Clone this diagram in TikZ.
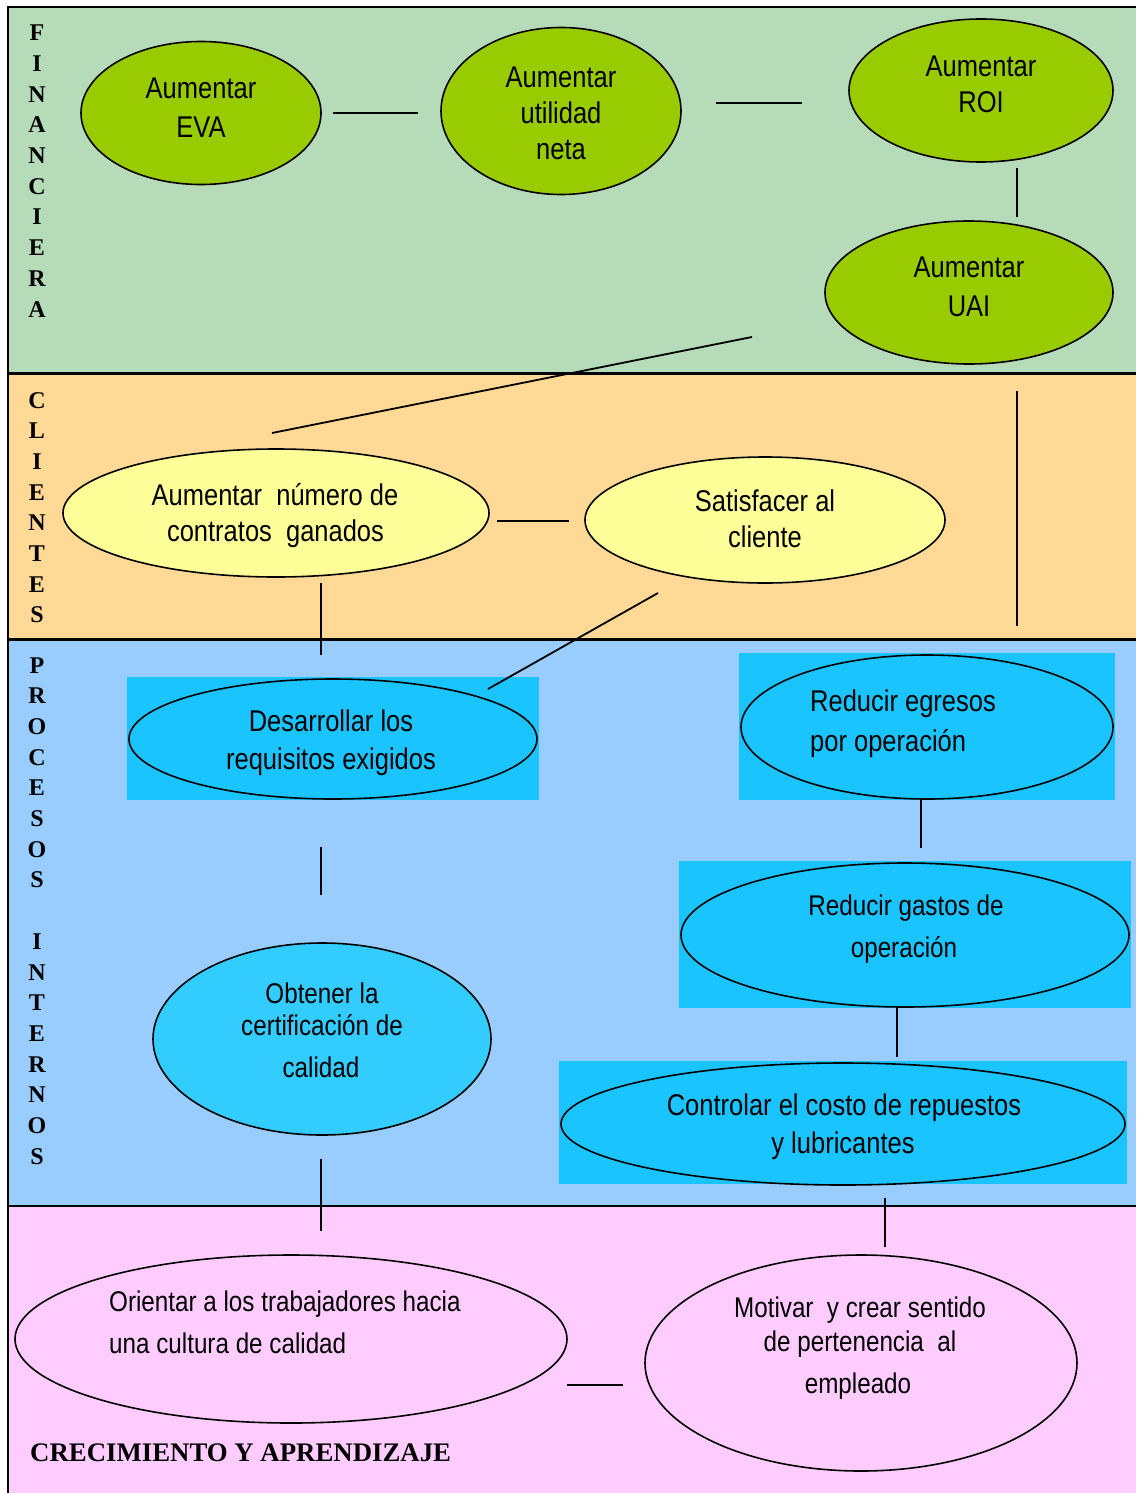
\documentclass[tikz,border=0pt]{standalone}
\usepackage{fontspec}
\usetikzlibrary{shapes.geometric}
\newfontfamily\nar[FakeStretch=0.85]{Liberation Sans}
\newfontfamily\tms{Liberation Serif}
\definecolor{bandG}{RGB}{181,219,185}
\definecolor{bandO}{RGB}{255,217,149}
\definecolor{bandB}{RGB}{153,204,255}
\definecolor{bandP}{RGB}{255,204,255}
\definecolor{elG}{RGB}{153,204,0}
\definecolor{elY}{RGB}{255,255,153}
\definecolor{elC}{RGB}{26,196,255}
\definecolor{elC2}{RGB}{51,204,255}
\begin{document}
\begin{tikzpicture}[x=1pt,y=-1pt,
  ell/.style={ellipse, draw=black, line width=1.6pt, inner sep=0pt},
  rbox/.style={rectangle, fill=elC, draw=none, inner sep=0pt},
  tl/.style={font=\nar\fontsize{30}{36}\selectfont, inner sep=0pt, anchor=base},
  tls/.style={font=\nar\fontsize{28.5}{34}\selectfont, inner sep=0pt, anchor=base},
  lab/.style={font=\tms\bfseries\fontsize{24}{24}\selectfont, inner sep=0pt, anchor=base},
  conn/.style={line width=1.8pt}]
\useasboundingbox (0,0) rectangle (1136,1493);
% bands
\fill[bandG] (8,7) rectangle (1136,373);
\fill[bandO] (8,373) rectangle (1136,639);
\fill[bandB] (8,639) rectangle (1136,1206);
\fill[bandP] (8,1206) rectangle (1136,1493);
\draw[line width=2pt] (8,1493) -- (8,7) -- (1136,7);
\draw[line width=3pt] (8,373) -- (1136,373);
\draw[line width=3pt] (8,639) -- (1136,639);
\draw[line width=2pt] (8,1206) -- (1136,1206);

% side labels
\foreach \l [count=\i] in {F,I,N,A,N,C,I,E,R,A}
  \node[lab] (fin\i) at (37,{40.7+30.7*(\i-1)}) {\l};
\foreach \l [count=\i] in {C,L,I,E,N,T,E,S}
  \node[lab] (cli\i) at (37,{408+30.7*(\i-1)}) {\l};
\foreach \l [count=\i] in {P,R,O,C,E,S,O,S,{},I,N,T,E,R,N,O,S}
  \node[lab] (pro\i) at (37,{673+30.7*(\i-1)}) {\l};
\node[lab, anchor=base west, font=\tms\bfseries\fontsize{26.8}{26.8}\selectfont] (crec) at (30,1461) {CRECIMIENTO Y APRENDIZAJE};

% financiera
\node[ell, fill=elG, minimum width=240pt, minimum height=143pt] (eva) at (201,113) {};
\node[ell, fill=elG, minimum width=240pt, minimum height=167pt] (util) at (561,111) {};
\node[ell, fill=elG, minimum width=264pt, minimum height=143pt] (roi) at (981,90.5) {};
\node[ell, fill=elG, minimum width=288pt, minimum height=143pt] (uai) at (969,292.5) {};
\node[tl] (eva1) at (201,99) {Aumentar};
\node[tl] (eva2) at (201,138) {EVA};
\node[tl] (util1) at (561,88) {Aumentar};
\node[tl] (util2) at (561,124) {utilidad};
\node[tl] (util3) at (561,160) {neta};
\node[tl] (roi1) at (981,77) {Aumentar};
\node[tl] (roi2) at (981,113) {ROI};
\node[tl] (uai1) at (969,277) {Aumentar};
\node[tl] (uai2) at (969,316) {UAI};

% clientes
\node[ell, fill=elY, minimum width=426pt, minimum height=128pt] (num) at (276,513) {};
\node[ell, fill=elY, minimum width=360pt, minimum height=126pt] (sat) at (765,520) {};
\node[tl] (num1) at (275,505) {Aumentar\ \ número de};
\node[tl] (num2) at (275.5,541) {contratos\ \ ganados};
\node[tl] (sat1) at (765,511) {Satisfacer al};
\node[tl] (sat2) at (765,547) {cliente};

% procesos internos
\node[rbox, minimum width=412pt, minimum height=123pt] (rdes) at (333,738.5) {};
\node[ell, fill=elC, minimum width=408pt, minimum height=120pt] (des) at (333,739) {};
\node[rbox, minimum width=376pt, minimum height=147pt] (regr) at (927,726.5) {};
\node[ell, fill=elC, minimum width=372pt, minimum height=144pt] (egr) at (927,727) {};
\node[rbox, minimum width=452pt, minimum height=147pt] (rgas) at (905,934.5) {};
\node[ell, fill=elC, minimum width=448pt, minimum height=144pt] (gas) at (905,935) {};
\node[rbox, minimum width=568pt, minimum height=123pt] (rcon) at (843,1122.5) {};
\node[ell, fill=elC, minimum width=564pt, minimum height=122pt] (con) at (843,1124) {};
\node[ell, fill=elC2, minimum width=338pt, minimum height=192pt] (obt) at (322,1039) {};
\node[tl] (des1) at (331,731) {Desarrollar los};
\node[tl] (des2) at (331,769) {requisitos exigidos};
\node[tl, anchor=base west] (egr1) at (810,711) {Reducir egresos};
\node[tl, anchor=base west] (egr2) at (810,751) {por operación};
\node[tls] (gas1) at (906,915) {Reducir gastos de};
\node[tls] (gas2) at (904,957) {operación};
\node[tl] (con1) at (844,1115) {Controlar el costo de repuestos};
\node[tl] (con2) at (843,1153) {y lubricantes};
\node[tls] (obt1) at (322,1003) {Obtener la};
\node[tls] (obt2) at (322,1035) {certificación de};
\node[tls] (obt3) at (321,1077) {calidad};

% crecimiento
\node[ell, fill=bandP, minimum width=552pt, minimum height=168pt] (ori) at (291,1339) {};
\node[ell, fill=bandP, minimum width=432pt, minimum height=216pt] (mot) at (861,1363) {};
\node[tls, anchor=base west] (ori1) at (109,1311) {Orientar a los trabajadores hacia};
\node[tls, anchor=base west] (ori2) at (109,1353) {una cultura de calidad};
\node[tls] (mot1) at (860,1317) {Motivar\ \ y crear sentido};
\node[tls] (mot2) at (860,1351) {de pertenencia\ \ al};
\node[tls] (mot3) at (858,1393) {empleado};

% connector end points
\coordinate (c1a) at (333,113);  \coordinate (c1b) at (418,113);
\coordinate (c2a) at (716,103);  \coordinate (c2b) at (802,103);
\coordinate (c3a) at (1017,168); \coordinate (c3b) at (1017,217);
\coordinate (c4a) at (752,337);  \coordinate (c4b) at (272,433);
\coordinate (c5a) at (497,521);  \coordinate (c5b) at (569,521);
\coordinate (c6a) at (1017,391); \coordinate (c6b) at (1017,626);
\coordinate (c7a) at (321,583);  \coordinate (c7b) at (321,655);
\coordinate (c8a) at (658,593);  \coordinate (c8b) at (488,689);
\coordinate (c9a) at (321,847);  \coordinate (c9b) at (321,895);
\coordinate (c10a) at (321,1159); \coordinate (c10b) at (321,1231);
\coordinate (c11a) at (921,800);  \coordinate (c11b) at (921,848);
\coordinate (c12a) at (897,1008); \coordinate (c12b) at (897,1057);
\coordinate (c13a) at (885,1198); \coordinate (c13b) at (885,1247);
\coordinate (c14a) at (567,1385); \coordinate (c14b) at (623,1385);
\foreach \k in {1,...,14} \draw[conn] (c\k a) -- (c\k b);
\end{tikzpicture}
\end{document}
